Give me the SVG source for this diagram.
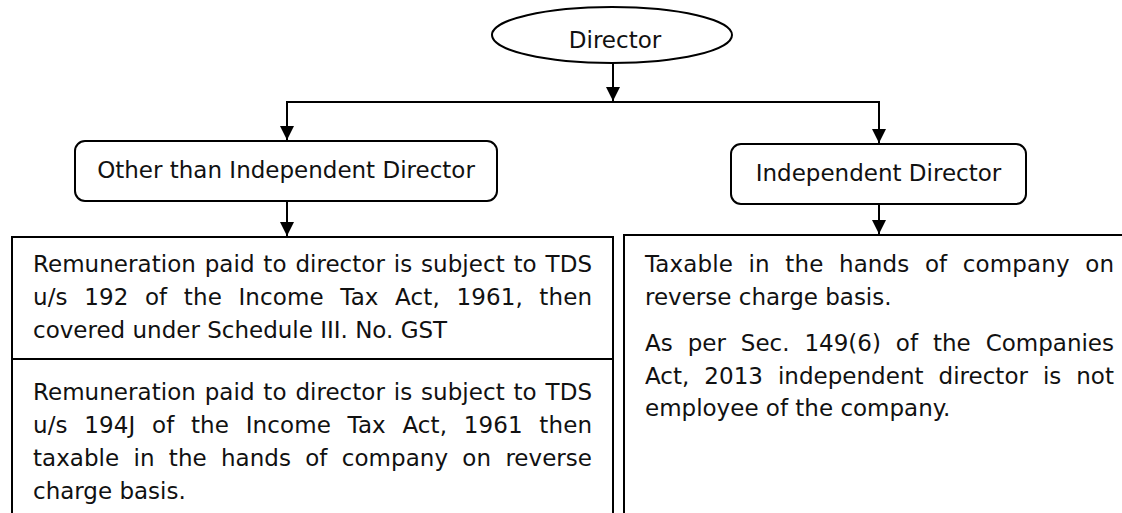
<svg xmlns="http://www.w3.org/2000/svg" width="1122" height="513" viewBox="0 0 1122 513">
<style>
.shape{fill:#fff;stroke:#000;stroke-width:2}
.conn{fill:none;stroke:#000;stroke-width:2}
text{font-family:"DejaVu Sans","Liberation Sans",sans-serif;font-size:23px;fill:#111}
.c{text-anchor:middle}
</style>
<defs>
<marker id="arr" markerUnits="userSpaceOnUse" markerWidth="15" markerHeight="14" refX="14" refY="7" orient="auto">
<path d="M0,0 L14,7 L0,14 Z" fill="#000"/>
</marker>
</defs>
<rect width="1122" height="513" fill="#fff"/>
<g id="connectors">
<line class="conn" x1="613" y1="63" x2="613" y2="101" marker-end="url(#arr)"/>
<polyline class="conn" points="287,140 287,102 879,102 879,143"/>
<line class="conn" x1="287" y1="120" x2="287" y2="140" marker-end="url(#arr)"/>
<line class="conn" x1="879" y1="120" x2="879" y2="143" marker-end="url(#arr)"/>
<line class="conn" x1="287" y1="201" x2="287" y2="236" marker-end="url(#arr)"/>
<line class="conn" x1="879" y1="204" x2="879" y2="234" marker-end="url(#arr)"/>
</g>
<g id="director">
<ellipse class="shape" cx="612" cy="35" rx="120" ry="28"/>
<text class="c" x="615" y="48">Director</text>
</g>
<g id="other-than-independent">
<rect class="shape" x="75" y="141" width="422" height="60" rx="10"/>
<text class="c" x="286" y="178">Other than Independent Director</text>
</g>
<g id="independent">
<rect class="shape" x="731" y="144" width="295" height="60" rx="10"/>
<text class="c" x="878.5" y="181">Independent Director</text>
</g>
<g id="other-details">
<rect class="shape" x="12" y="237" width="601" height="290"/>
<line class="conn" x1="12" y1="359" x2="613" y2="359"/>
<text x="33" y="272" word-spacing="1.5" textLength="559" lengthAdjust="spacing">Remuneration paid to director is subject to TDS</text>
<text x="33" y="305" word-spacing="9.1" textLength="559" lengthAdjust="spacing">u/s 192 of the Income Tax Act, 1961, then</text>
<text x="33" y="338">covered under Schedule III. No. GST</text>
<text x="33" y="400" word-spacing="1.5" textLength="559" lengthAdjust="spacing">Remuneration paid to director is subject to TDS</text>
<text x="33" y="433" word-spacing="9.2" textLength="559" lengthAdjust="spacing">u/s 194J of the Income Tax Act, 1961 then</text>
<text x="33" y="466" word-spacing="7" textLength="559" lengthAdjust="spacing">taxable in the hands of company on reverse</text>
<text x="33" y="499">charge basis.</text>
</g>
<g id="independent-details">
<rect class="shape" x="624" y="235" width="520" height="290"/>
<text x="645" y="272" word-spacing="8.1" textLength="469" lengthAdjust="spacing">Taxable in the hands of company on</text>
<text x="645" y="305">reverse charge basis.</text>
<text x="645" y="351" word-spacing="7.6" textLength="469" lengthAdjust="spacing">As per Sec. 149(6) of the Companies</text>
<text x="645" y="384" word-spacing="7.6" textLength="469" lengthAdjust="spacing">Act, 2013 independent director is not</text>
<text x="645" y="416">employee of the company.</text>
</g>
</svg>
